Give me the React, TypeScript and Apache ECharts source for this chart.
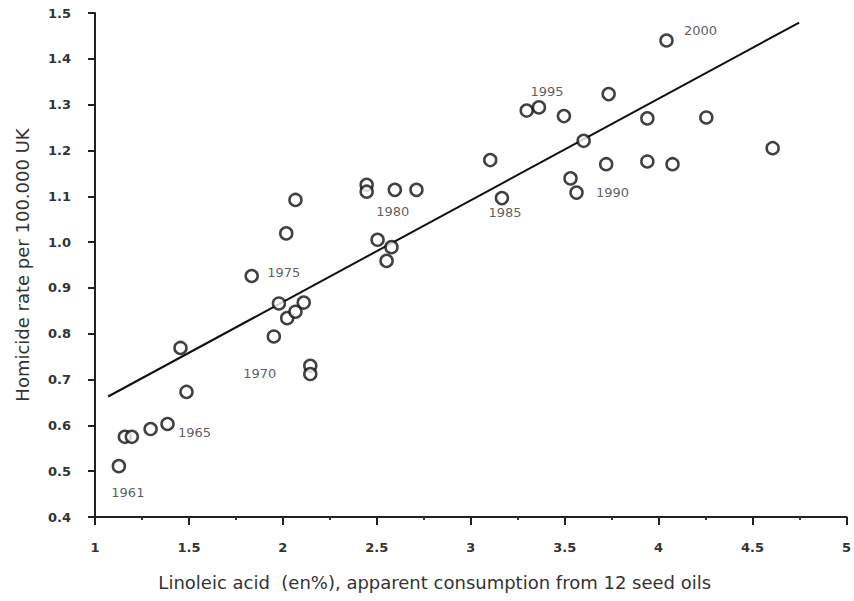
import React, { useEffect, useRef } from "react";
import * as echarts from "echarts";

// Linoleic acid (en%) per year, 1961-2000
const linoleic = [
  1.127, 1.159, 1.196, 1.296, 1.386, 1.455, 1.487, 1.834, 1.952, 1.979,
  2.023, 2.067, 2.111, 2.018, 2.067, 2.146, 2.146, 2.446, 2.446, 2.596,
  2.711, 2.504, 2.578, 2.552, 3.104, 3.166, 3.298, 3.363, 3.496, 3.531,
  3.563, 3.601, 3.721, 3.734, 3.94, 3.94, 4.074, 4.042, 4.254, 4.607,
];
// Homicide rate per 100.000 UK
const homicide = [
  0.511, 0.575, 0.575, 0.592, 0.603, 0.769, 0.673, 0.926, 0.794, 0.866,
  0.834, 0.848, 0.868, 1.019, 1.092, 0.73, 0.712, 1.125, 1.11, 1.114,
  1.114, 1.005, 0.989, 0.959, 1.179, 1.096, 1.287, 1.294, 1.275, 1.139,
  1.108, 1.221, 1.17, 1.323, 1.27, 1.176, 1.17, 1.44, 1.272, 1.205,
];
const yearLabels = ["1961", "1965", "1970", "1975", "1980", "1985", "1990", "1995", "2000"];
const yearLabelIndex = [0, 4, 8, 7, 19, 25, 30, 27, 37];

const trendX = [1.07, 4.748];
const trendY = [0.663, 1.479];

const xTickValues = [1, 1.5, 2, 2.5, 3, 3.5, 4, 4.5, 5];
const yTickValues = [0.4, 0.5, 0.6, 0.7, 0.8, 0.9, 1.0, 1.1, 1.2, 1.3, 1.4, 1.5];

const xName = "Linoleic acid  (en%), apparent consumption from 12 seed oils";
const yName = "Homicide rate per 100.000 UK";

const FONT = "DejaVu Sans, Liberation Sans, Arial, sans-serif";

// label offsets (styling) keyed by year
const labelOffsets: Record<string, [number, number]> = {
  "1961": [9, 26],
  "1965": [27, 9],
  "1970": [-14, 37],
  "1975": [32, -3],
  "1980": [-2, 22],
  "1985": [3, 14],
  "1990": [36, 0],
  "1995": [8, -16],
  "2000": [34, -10],
};

export default function App() {
  const ref = useRef<HTMLDivElement>(null);
  useEffect(() => {
    if (!ref.current) return;
    const chart = echarts.init(ref.current, null, { renderer: "svg" });

    const points = linoleic.map((x, i) => {
      const li = yearLabelIndex.indexOf(i);
      const item: any = { value: [x, homicide[i]] };
      if (li >= 0) {
        const yr = yearLabels[li];
        item.label = {
          show: true,
          formatter: yr,
          position: "inside",
          offset: labelOffsets[yr],
          color: "#333",
          fontSize: 13,
          fontFamily: FONT,
        };
      }
      return item;
    });

    const fmtX = (v: number) => {
      const m = xTickValues.find((t) => Math.abs(t - v) < 1e-6);
      return m !== undefined ? String(m) : "";
    };
    const fmtY = (v: number) => {
      const m = yTickValues.find((t) => Math.abs(t - v) < 1e-6);
      return m !== undefined ? m.toFixed(1) : "";
    };

    chart.setOption({
      animation: false,
      backgroundColor: "#ffffff",
      grid: { left: 95, top: 13, right: 3, bottom: 84, containLabel: false },
      xAxis: {
        type: "value",
        min: 1,
        max: 5,
        interval: 0.5,
        name: xName,
        nameLocation: "middle",
        nameGap: 56,
        nameTextStyle: {
          fontSize: 18,
          color: "#333",
          fontFamily: FONT,
          padding: [0, 72, 0, 0],
        },
        axisLine: { show: true, lineStyle: { color: "#222", width: 2 } },
        axisTick: { show: true, length: 8, lineStyle: { color: "#222", width: 2 } },
        minorTick: { show: true, splitNumber: 2, length: 3, lineStyle: { color: "#333", width: 2 } },
        splitLine: { show: false },
        axisLabel: {
          formatter: fmtX,
          margin: 24,
          fontSize: 13,
          fontWeight: "bold",
          color: "#333",
          fontFamily: FONT,
        },
      },
      yAxis: {
        type: "value",
        min: 0.4,
        max: 1.5,
        interval: 0.1,
        name: yName,
        nameLocation: "middle",
        nameGap: 64,
        nameTextStyle: { fontSize: 18, color: "#333", fontFamily: FONT },
        axisLine: { show: true, lineStyle: { color: "#222", width: 2 } },
        axisTick: { show: true, length: 7, lineStyle: { color: "#222", width: 2 } },
        splitLine: { show: false },
        axisLabel: {
          formatter: fmtY,
          margin: 24,
          fontSize: 13,
          fontWeight: "bold",
          color: "#333",
          fontFamily: FONT,
        },
      },
      series: [
        {
          type: "line",
          data: trendX.map((x, i) => [x, trendY[i]]),
          symbol: "none",
          lineStyle: { color: "#111", width: 2 },
          z: 2,
          silent: true,
        },
        {
          type: "scatter",
          data: points,
          symbol: "circle",
          symbolSize: 12,
          itemStyle: { color: "#ffffff", borderColor: "#111", borderWidth: 2.5 },
          z: 3,
        },
      ],
    });
    return () => chart.dispose();
  }, []);
  return (
    <div
      ref={ref}
      style={{ position: "fixed", left: 0, top: 0, width: 854, height: 601, background: "#fff" }}
    />
  );
}
